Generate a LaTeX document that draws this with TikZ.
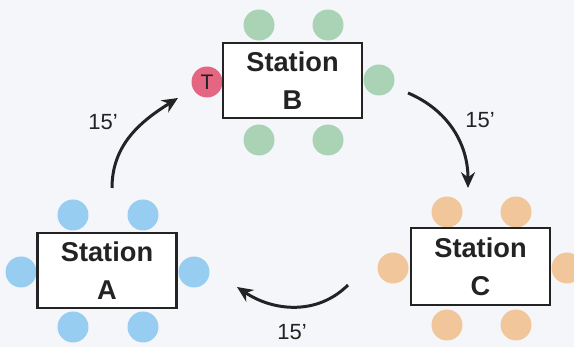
\documentclass[tikz,border=0pt]{standalone}
\usepackage{fontspec}
\setmainfont{Liberation Sans}
\usetikzlibrary{arrows.meta}
\definecolor{bg}{RGB}{245,246,250}
\definecolor{gseat}{RGB}{170,211,182}
\definecolor{bseat}{RGB}{150,205,240}
\definecolor{oseat}{RGB}{242,198,155}
\definecolor{tseat}{RGB}{228,102,130}
\definecolor{ink}{RGB}{35,35,35}
\tikzset{
  stationbox/.style={draw=ink,line width=1.5pt,fill=white,minimum width=2.78cm,minimum height=1.5cm,align=center,font=\fontsize{15.5}{21.5}\selectfont\bfseries,text=ink},
  seat/.style={circle,minimum size=0.62cm,inner sep=0pt},
  flow/.style={draw=ink,line width=1.7pt,-{Stealth[length=9pt,width=8pt]}},
  mins/.style={font=\fontsize{12.5}{14}\selectfont,text=ink}
}
\begin{document}
\begin{tikzpicture}[x=0.02cm,y=0.02cm]
\fill[bg] (0,0) rectangle (574,347);
\useasboundingbox (0,0) rectangle (574,347);
% seats B
\node[seat,fill=gseat] (b1) at (259,322) {};
\node[seat,fill=gseat] (b2) at (328,322) {};
\node[seat,fill=gseat] (b3) at (379,267) {};
\node[seat,fill=gseat] (b4) at (259,207) {};
\node[seat,fill=gseat] (b5) at (328,207) {};
\node[seat,fill=tseat,font=\fontsize{12}{12}\selectfont,text=ink] (bt) at (207,265) {T};
% seats A
\node[seat,fill=bseat] (a1) at (73,132) {};
\node[seat,fill=bseat] (a2) at (143,132) {};
\node[seat,fill=bseat] (a3) at (21,75) {};
\node[seat,fill=bseat] (a4) at (194,75) {};
\node[seat,fill=bseat] (a5) at (73,20) {};
\node[seat,fill=bseat] (a6) at (143,20) {};
% seats C
\node[seat,fill=oseat] (c1) at (447,135) {};
\node[seat,fill=oseat] (c2) at (516,135) {};
\node[seat,fill=oseat] (c3) at (393,79) {};
\node[seat,fill=oseat] (c4) at (567,79) {};
\node[seat,fill=oseat] (c5) at (447,22) {};
\node[seat,fill=oseat] (c6) at (516,22) {};
% stations
\node[stationbox] (B) at (292.5,266.5) {Station\\B};
\node[stationbox] (A) at (107,76.5) {Station\\A};
\node[stationbox,minimum height=1.54cm] (C) at (480.5,80.5) {Station\\C};
% arrows
\coordinate (ab1) at (112,159);
\coordinate (ab2) at (178,249);
\coordinate (bc1) at (408,254);
\coordinate (bc2) at (468,159);
\coordinate (ca1) at (348,62);
\coordinate (ca2) at (237,60);
\draw[flow] (ab1) to[out=90,in=212] (ab2);
\draw[flow] (bc1) to[out=-23,in=90] (bc2);
\draw[flow] (ca1) to[out=225,in=-34] (ca2);
\node[mins] (l1) at (103,225) {15'};
\node[mins] (l2) at (480,227) {15'};
\node[mins] (l3) at (292,15) {15'};
\end{tikzpicture}
\end{document}
